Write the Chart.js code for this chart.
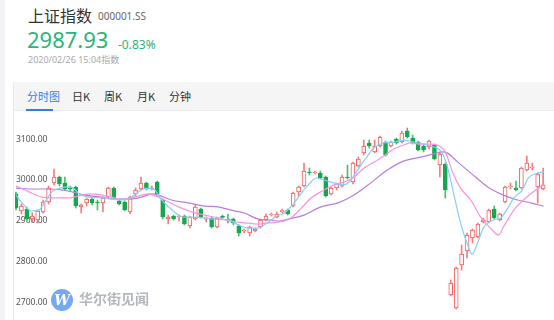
<!DOCTYPE html>
<html>
<head>
<meta charset="utf-8">
<script src="https://cdn.jsdelivr.net/npm/chart.js@4.4.1/dist/chart.umd.min.js"></script>
<style>
  html, body { margin: 0; padding: 0; background: #fff; }
  body { width: 554px; height: 320px; position: relative; overflow: hidden;
         font-family: "Noto Sans", "Noto Sans CJK SC", sans-serif; }
  .strip { position: absolute; left: 0; top: 0; width: 5px; height: 320px; background: #f1f3f6; }
  .abs { position: absolute; white-space: nowrap; line-height: 1; }
  #title { left: 28px; top: 7px; font-size: 16px; color: #333; font-family: "Noto Sans CJK SC", sans-serif; }
  #code { left: 98px; top: 11px; font-size: 10px; color: #666; }
  #price { left: 27px; top: 28px; font-size: 22px; color: #2bb57a; }
  #chg { left: 118px; top: 39px; font-size: 12px; color: #2bb57a; }
  #time { left: 28px; top: 55px; font-size: 9px; color: #a8a8a8; }
  .panel { position: absolute; left: 13px; top: 82px; right: 0; bottom: 0; border-left: 1px solid #e9eaec; }
  .tabs { position: absolute; left: 0; top: 0; right: 0; height: 28px; background: #f5f5f5; border-bottom: 1px solid #ececec; }
  .tab { position: absolute; top: 9px; font-size: 11px; color: #333; line-height: 1; font-family: "Noto Sans CJK SC", sans-serif; }
  .tab.on { color: #2f7fe8; }
  .uline { position: absolute; left: 12px; top: 27px; width: 27px; height: 2px; background: #2f7fe8; }
  #chartBox { position: absolute; left: 13px; top: 112px; width: 541px; height: 208px; }
  .wm { position: absolute; left: 51px; top: 289px; width: 100px; height: 24px; opacity: 0.85; }
  .wm .logo { position: absolute; left: 0; top: 0; width: 22px; height: 22px; border-radius: 50%; background: #5e9bef;
              color: #fff; font: italic bold 14px/22px "DejaVu Serif", serif; text-align: center; }
  .wm .txt { position: absolute; left: 28px; top: 2px; font-size: 14px; line-height: 1; color: #a7abb2; font-weight: bold;
             font-family: "Noto Sans CJK SC", sans-serif; white-space: nowrap; }
</style>
</head>
<body>
<div class="strip"></div>
<div class="abs" id="title">上证指数</div>
<div class="abs" id="code">000001.SS</div>
<div class="abs" id="price">2987.93</div>
<div class="abs" id="chg">-0.83%</div>
<div class="abs" id="time">2020/02/26 15:04指数</div>
<div class="panel">
  <div class="tabs">
    <div class="tab on" style="left:13px">分时图</div>
    <div class="tab" style="left:58px">日K</div>
    <div class="tab" style="left:90px">周K</div>
    <div class="tab" style="left:123px">月K</div>
    <div class="tab" style="left:155px">分钟</div>
    <div class="uline"></div>
  </div>
</div>
<div id="chartBox"><canvas id="c" width="541" height="208"></canvas></div>
<div class="wm"><div class="logo">W</div><div class="txt">华尔街见闻</div></div>
<script>
// ---- candle data ----
const opens  = [2965.6,2923.9,2928.8,2904.3,2901.8,2921.5,2946.0,2992.6,3007.4,2992.6,
                2981.0,2982.8,2933.7,2943.6,2953.4,2946.0,2943.6,2958.3,2980.4,2948.5,
                2946.0,2921.5,2965.6,2977.9,2992.6,2977.9,2995.1,2950.9,2904.3,2911.7,
                2909.2,2911.7,2887.1,2904.3,2928.8,2904.0,2906.7,2884.7,2911.7,2904.3,
                2904.3,2887.1,2874.9,2870.0,2874.9,2884.7,2901.8,2914.1,2909.2,2922.0,
                2926.4,2936.2,2970.6,2985.3,3019.6,3017.2,3017.2,3007.4,2965.6,2980.4,
                2985.3,3007.4,2995.1,3034.4,3066.3,3090.8,3068.7,3083.4,3093.3,3083.4,
                3100.6,3093.3,3120.2,3103.0,3093.3,3083.4,3081.0,3085.9,3036.8,3039.3,
                2717.8,2685.9,2791.4,2825.8,2857.7,2860.1,2896.9,2896.9,2928.8,2901.8,
                2946.0,2982.8,2980.4,2980.4,3024.5,3029.4,2982.8,2977.9];
const highs  = [2970.6,2941.1,2933.7,2919.0,2926.4,2950.9,2985.3,3027.0,3009.8,3007.4,
                2985.3,2985.3,2941.1,2955.8,2955.8,2950.9,2958.3,2982.8,2982.8,2950.9,
                2948.5,2960.7,2980.4,3007.4,2995.1,2985.3,2997.5,2953.4,2914.1,2914.1,
                2914.1,2914.1,2911.7,2938.7,2931.3,2909.2,2909.2,2909.2,2914.1,2916.6,
                2906.7,2889.6,2879.8,2887.1,2882.2,2904.3,2916.6,2919.0,2921.5,2928.8,
                2928.8,2970.6,2985.3,3041.7,3029.4,3022.1,3022.1,3009.8,2982.8,2992.6,
                3012.3,3036.8,3044.2,3056.4,3098.2,3098.2,3098.2,3108.0,3095.7,3095.7,
                3103.0,3120.2,3127.6,3110.4,3095.7,3085.9,3098.2,3088.3,3068.7,3041.7,
                2754.6,2786.5,2840.5,2870.0,2879.8,2894.5,2906.7,2928.8,2936.2,2919.0,
                2985.3,2992.6,2997.5,3031.9,3058.9,3041.7,3017.2,3029.4];
const lows   = [2926.4,2916.6,2899.4,2896.9,2894.5,2919.0,2941.1,2987.7,2985.3,2975.5,
                2973.0,2931.3,2919.0,2936.2,2938.7,2926.4,2921.5,2955.8,2953.4,2938.7,
                2923.9,2916.6,2960.7,2975.5,2975.5,2975.5,2963.2,2904.3,2892.0,2901.8,
                2899.4,2889.6,2882.2,2901.8,2906.7,2896.9,2882.2,2882.2,2906.7,2894.5,
                2889.6,2862.6,2870.0,2862.6,2872.4,2882.2,2899.4,2911.7,2906.7,2919.0,
                2914.1,2933.7,2960.7,2982.8,3012.3,3014.7,3002.5,2958.3,2963.2,2975.5,
                2982.8,3002.5,2990.2,3031.9,3061.4,3078.5,3066.3,3081.0,3059.0,3081.0,
                3088.3,3090.8,3103.0,3088.3,3071.2,3068.7,3076.1,3049.1,3007.4,2955.8,
                2715.4,2683.4,2779.1,2808.6,2845.4,2857.7,2894.5,2894.5,2904.3,2899.4,
                2943.6,2977.9,2973.0,2977.9,3022.1,3024.5,2943.6,2975.5];
const closes = [2931.3,2936.2,2904.3,2911.7,2923.9,2946.0,2980.4,3007.4,2990.2,2977.9,
                2977.9,2936.2,2938.7,2953.4,2943.6,2943.6,2955.8,2980.4,2955.8,2941.1,
                2926.4,2958.3,2975.5,2992.6,2977.9,2981.0,2965.6,2909.2,2909.2,2904.3,
                2911.7,2892.0,2909.2,2933.7,2909.2,2906.0,2884.7,2906.7,2908.0,2901.8,
                2894.5,2870.0,2877.3,2884.7,2879.8,2901.8,2911.7,2916.6,2916.6,2925.0,
                2916.6,2968.1,2982.8,3022.1,3017.2,3019.6,3004.9,2960.7,2980.4,2990.2,
                3007.4,3004.9,3041.7,3051.5,3083.4,3083.4,3083.4,3105.5,3061.4,3093.3,
                3090.8,3115.3,3105.5,3090.8,3073.6,3073.6,3095.7,3051.5,3063.8,2975.5,
                2747.2,2784.0,2818.4,2865.0,2877.3,2892.0,2901.8,2926.4,2906.7,2916.6,
                2982.8,2985.3,2975.5,3029.4,3041.7,3031.9,3014.7,2987.9];

// ---- moving average lines (position in candle units, value) ----
const ma5At  = [0,1.1,2.9,4.2,5.3,6.6,8.1,9.7,10.6,11.6,13.4,15.8,17.6,19.4,20.7,21.8,23.1,24.4,25.5,26.8,28.1,29.9,30.8,32.8,34.7,36.5,39.1,40.9,42.8,44.6,45.7,47.0,48.4,49.4,51.2,53.0,54.3,55.2,56.7,58.5,60.2,61.3,62.9,64.4,65.9,67.7,69.5,71.4,73.2,75.0,76.9,78.2,79.4,80.6,81.8,83.1,83.9,85.0,86.1,87.9,89.2,90.5,91.6,93.2,94.3,96.0,97.1];
const ma5    = [2963,2944,2924,2926,2946,2971,2980,2983,2980,2966,2958,2956,2953,2951,2953,2963,2976,2980,2976,2951,2934,2914,2909,2909,2907,2904,2902,2890,2882,2882,2890,2902,2914,2919,2944,2976,2995,3005,3000,2993,2988,2995,3025,3054,3079,3091,3093,3098,3093,3088,3081,3071,3032,2963,2895,2841,2818,2848,2885,2902,2907,2931,2956,2976,3005,3017,3020];
const ma10At = [0,2.4,4.8,7.2,9.7,12.1,13.9,15.8,17.6,19.4,21.8,24.4,26.2,28.1,29.9,32.3,34.7,37.2,39.6,42.0,44.6,46.4,48.4,50.6,52.5,54.3,56.1,58.5,60.4,62.2,64.0,65.9,67.7,69.5,71.4,72.7,74.5,76.3,78.2,79.1,80.4,81.8,83.7,85.5,87.3,88.8,89.7,91.6,93.4,95.2,97.1];
const ma10   = [2985,2971,2958,2956,2956,2963,2966,2963,2958,2953,2958,2966,2958,2946,2934,2922,2914,2907,2899,2895,2892,2895,2897,2907,2931,2956,2971,2988,2995,3007,3029,3044,3059,3076,3086,3091,3088,3088,3081,3066,3017,2980,2951,2909,2882,2865,2885,2926,2951,2971,2988];
const ma20At = [0,2.4,5.3,8.4,10.3,12.7,15.8,18.2,20.7,23.1,25.0,26.2,28.6,31.7,34.7,37.2,39.6,42.0,44.6,46.4,48.4,50.1,53.0,56.1,59.3,62.2,65.3,68.4,71.4,74.5,76.9,78.5,79.4,81.3,83.7,86.8,89.7,92.3,94.7,97.1];
const ma20   = [2980,2978,2978,2976,2971,2963,2958,2953,2953,2958,2966,2963,2951,2944,2936,2934,2926,2919,2904,2902,2899,2904,2914,2934,2944,2963,2993,3025,3047,3056,3064,3069,3066,3044,3017,2983,2963,2951,2944,2936];

// ---- axis ticks ----
const yTicks = [2700, 2800, 2900, 3000, 3100];

const UP = '#f45b5b', UP_WICK = '#f77c7c', DOWN = '#17a74e', DOWN_WICK = '#46c070';
const isUp = i => closes[i] >= opens[i];
const idx = opens.map((_, i) => i);
const pts = (xs, ys) => xs.map((x, k) => ({ x: x, y: ys[k] }));

const lineDs = (label, xs, ys, color) => ({
  type: 'line', label, data: pts(xs, ys), borderColor: color, borderWidth: 1.2,
  pointRadius: 0, tension: 0.35, cubicInterpolationMode: 'monotone', fill: false, order: 0
});

new Chart(document.getElementById('c'), {
  type: 'bar',
  data: {
    datasets: [
      lineDs('MA5', ma5At, ma5, '#86cdfb'),
      lineDs('MA10', ma10At, ma10, '#fb93dc'),
      lineDs('MA20', ma20At, ma20, '#b57fd8'),
      {
        label: 'body', order: 1, grouped: false,
        data: idx.map(i => ({ x: i, y: [opens[i], closes[i]] })),
        backgroundColor: c => isUp(c.dataIndex) ? '#ffffff' : DOWN,
        borderColor: c => isUp(c.dataIndex) ? UP : DOWN,
        borderWidth: 1, borderSkipped: false, barThickness: 4, minBarLength: 1
      },
      {
        label: 'wick', order: 2, grouped: false,
        data: idx.map(i => ({ x: i, y: [lows[i], highs[i]] })),
        backgroundColor: c => isUp(c.dataIndex) ? UP_WICK : DOWN_WICK,
        borderWidth: 0, barThickness: 1
      }
    ]
  },
  options: {
    responsive: false, animation: false, devicePixelRatio: 1,
    layout: { padding: 0 },
    plugins: { legend: { display: false }, tooltip: { enabled: false } },
    scales: {
      x: { type: 'linear', display: false, offset: false, min: -0.18, max: 99.0 },
      y: {
        min: 2656.5, max: 3166.9,
        grid: { display: false, drawTicks: false },
        border: { display: false },
        afterBuildTicks: a => { a.ticks = yTicks.map(v => ({ value: v })); },
        afterFit: s => { s.paddingTop = 0; s.paddingBottom = 0; },
        ticks: {
          mirror: true, padding: 1, color: '#555',
          font: { size: 8.5, family: '"Noto Sans", sans-serif' },
          callback: v => Number(v).toFixed(2)
        }
      }
    }
  }
});
</script>
</body>
</html>
